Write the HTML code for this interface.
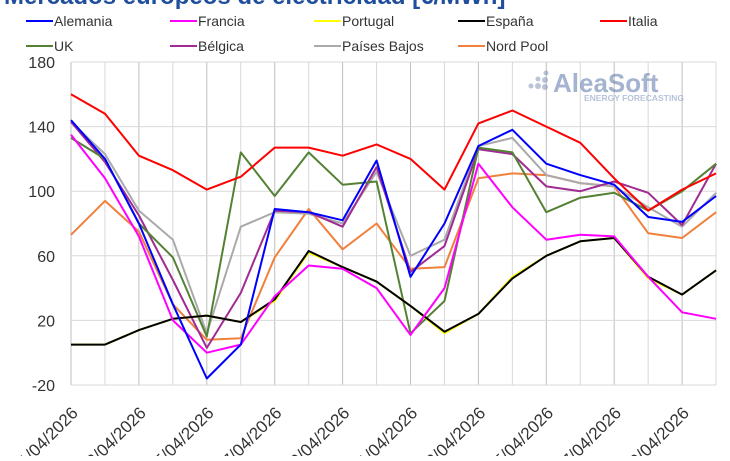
<!DOCTYPE html>
<html><head><meta charset="utf-8"><style>
body{margin:0;background:#fff;width:730px;height:456px;overflow:hidden}
svg{font-family:"Liberation Sans",sans-serif}
</style></head><body>
<svg id="c" width="730" height="456" xmlns="http://www.w3.org/2000/svg">
<text x="4" y="4" font-size="24" font-weight="bold" fill="#1f4e9c">Mercados europeos de electricidad [€/MWh]</text>
<g font-size="14" fill="#333">
<line x1="26" y1="21" x2="53" y2="21" stroke="#0000ff" stroke-width="2"/><text x="54" y="26">Alemania</text>
<line x1="170" y1="21" x2="197" y2="21" stroke="#ff00ff" stroke-width="2"/><text x="198" y="26">Francia</text>
<line x1="314" y1="21" x2="341" y2="21" stroke="#ffff00" stroke-width="2"/><text x="342" y="26">Portugal</text>
<line x1="458" y1="21" x2="485" y2="21" stroke="#000" stroke-width="2"/><text x="486" y="26">España</text>
<line x1="600" y1="21" x2="627" y2="21" stroke="#ff0000" stroke-width="2"/><text x="628" y="26">Italia</text>
<line x1="26" y1="46" x2="53" y2="46" stroke="#548235" stroke-width="2"/><text x="54" y="51">UK</text>
<line x1="170" y1="46" x2="197" y2="46" stroke="#a02b93" stroke-width="2"/><text x="198" y="51">Bélgica</text>
<line x1="314" y1="46" x2="341" y2="46" stroke="#aaaaaa" stroke-width="2"/><text x="342" y="51">Países Bajos</text>
<line x1="458" y1="46" x2="485" y2="46" stroke="#f0803c" stroke-width="2"/><text x="486" y="51">Nord Pool</text>
</g>
<g id="grid"></g>
<g opacity="0.55">
<circle cx="531" cy="86" r="2.5" fill="#8095b5"/><circle cx="538" cy="86" r="3" fill="#8095b5"/><circle cx="545" cy="80" r="3" fill="#8095b5"/><circle cx="545" cy="87" r="3" fill="#8095b5"/><circle cx="538" cy="79" r="2.5" fill="#8095b5"/><circle cx="546" cy="73" r="2.5" fill="#8095b5"/>
<text x="553" y="92" font-size="26" font-weight="bold" fill="#5a76a8">AleaSoft</text>
<text x="584" y="101" font-size="8.5" font-weight="bold" fill="#7d93bb">ENERGY FORECASTING</text>
</g>
<g id="series" fill="none" stroke-width="2" stroke-linejoin="round"></g>
<g id="labels" fill="#333"></g>
</svg>
<script>
var X0=71,DX=33.95,Y0=62,K=1.615;
function y(v){return Y0+(180-v)*K}
var g=document.getElementById('grid'),h='';
for(var i=0;i<20;i++){var x=X0+i*DX;h+='<line x1="'+x+'" y1="62" x2="'+x+'" y2="385" stroke="'+(i%2?'#d9d9d9':'#bfbfbf')+'"/>';}
for(var v=-20;v<=180;v+=40){h+='<line x1="71" y1="'+y(v)+'" x2="716" y2="'+y(v)+'" stroke="#d9d9d9"/>';}
g.innerHTML=h;
var L='';
for(var v=-20;v<=180;v+=40)L+='<text x="55" y="'+(y(v)+6)+'" text-anchor="end" font-size="16">'+v+'</text>';
for(var i=0;i<20;i+=2){var x=X0+i*DX,d=(i+1<10?'0':'')+(i+1)+'/04/2026';L+='<text font-size="17" transform="translate('+(x+8)+',414) rotate(-45)" text-anchor="end">'+d+'</text>';}
document.getElementById('labels').innerHTML=L;
var S=[
['#f0803c',[73,94,75,30,8,9,59,89,64,80,52,53,108,111,110,105,103,74,71,87]],
['#aaaaaa',[143,123,88,70,12,78,87,86,80,112,60,70,128,133,110,105,103,90,78,99]],
['#a02b93',[143,118,85,45,3,37,88,87,78,115,50,66,126,123,103,100,106,99,79,117]],
['#548235',[133,120,80,59,10,124,97,124,104,106,12,32,127,124,87,96,99,88,100,117]],
['#ff0000',[160,148,122,113,101,109,127,127,122,129,120,101,142,150,140,130,108,88,101,111]],
['#ffff00',[5,5,14,21,23,19,32,62,53,44,29,12,24,47,60,69,71,46,36,51]],
['#000000',[5,5,14,21,23,19,33,63,53,44,29,13,24,46,60,69,71,47,36,51]],
['#ff00ff',[135,108,72,20,0,5,35,54,52,40,11,40,117,90,70,73,72,47,25,21]],
['#0000ff',[144,120,80,30,-16,5,89,87,82,119,47,80,128,138,117,110,104,84,81,97]]];
var P='';
S.forEach(function(s){P+='<polyline stroke="'+s[0]+'" points="'+s[1].map(function(v,i){return (X0+i*DX).toFixed(1)+','+y(v).toFixed(1)}).join(' ')+'"/>';});
document.getElementById('series').innerHTML=P;
</script>
</body></html>
